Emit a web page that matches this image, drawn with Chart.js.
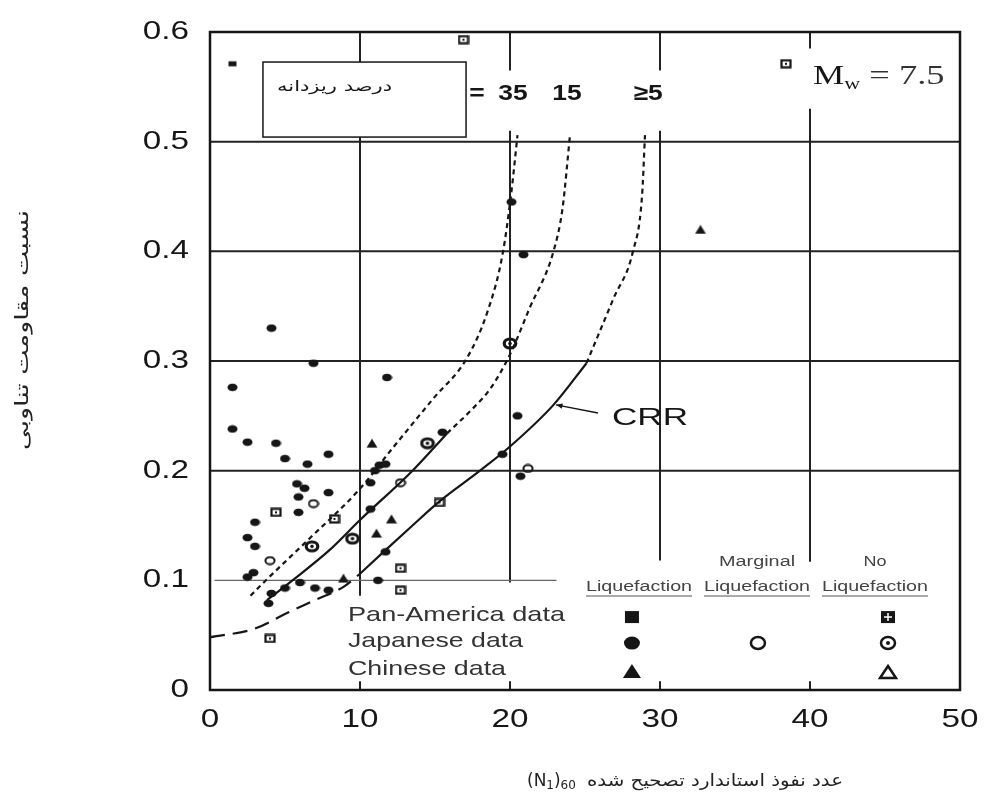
<!DOCTYPE html>
<html lang="fa">
<head>
    <meta charset="UTF-8">
    <title>CRR - (N1)60</title>
    <script src="https://cdn.jsdelivr.net/npm/chart.js@4"></script>
    <style>
        html, body { margin: 0; padding: 0; background: #fff; }
        canvas { display: block; }
    </style>
</head>
<body>
<canvas id="crrChart" width="988" height="796"></canvas>
<script>
    // Axes
    const xMin = 0, xMax = 50, xStep = 10;
    const yMin = 0, yMax = 0.6, yStep = 0.1;

    // Curves [(N1)60, CRR]
    const crr5Dash = [[0, 0.048], [3, 0.056], [5.1, 0.070], [7, 0.082], [8.9, 0.094], [10, 0.106]];
    const crr5Solid = [[10, 0.106], [11.5, 0.125], [13.5, 0.150], [15.3, 0.172], [18, 0.200], [20, 0.222], [22.9, 0.260], [25.1, 0.298]];
    const crr5Top = [[25.1, 0.298], [26.9, 0.357], [28.2, 0.400], [28.8, 0.450], [29.0, 0.506]];
    const fines15Solid = [[3.8, 0.082], [5.5, 0.100], [8, 0.128], [10, 0.155], [13.5, 0.200], [15.8, 0.234]];
    const fines15Top = [[15.8, 0.234], [17.4, 0.255], [18.7, 0.275], [20, 0.306], [21.3, 0.348], [22.9, 0.400], [23.5, 0.439], [24.0, 0.506]];
    const fines35 = [[2.7, 0.086], [3.8, 0.101], [6.7, 0.139], [9.9, 0.182], [12.2, 0.221], [14.9, 0.266], [17.1, 0.302], [18.5, 0.345], [19.5, 0.397], [20.1, 0.455], [20.5, 0.506]];

    // Case history points
    const panLiq = [[1.5, 0.571]];
    const panNoLiq = [[16.9, 0.593], [38.4, 0.571], [4.4, 0.162], [8.3, 0.156], [15.3, 0.171], [12.7, 0.111], [12.7, 0.091], [4.0, 0.047]];
    const japLiq = [
        [4.1, 0.330], [6.9, 0.298], [1.5, 0.276], [1.5, 0.238], [2.5, 0.226], [4.4, 0.225], [5.0, 0.211],
        [6.5, 0.206], [7.9, 0.215], [11.8, 0.285], [15.5, 0.235], [20.5, 0.250], [20.1, 0.445], [20.9, 0.397],
        [20.7, 0.195], [11.3, 0.205], [11.7, 0.206], [11.0, 0.200], [10.7, 0.189], [5.8, 0.188], [6.3, 0.184],
        [7.9, 0.180], [5.9, 0.176], [5.9, 0.162], [10.7, 0.165], [3.0, 0.153], [2.5, 0.139], [3.0, 0.131],
        [11.7, 0.126], [2.9, 0.107], [2.5, 0.103], [6.0, 0.098], [5.0, 0.093], [7.0, 0.093], [7.9, 0.091],
        [11.2, 0.100], [4.1, 0.088], [3.9, 0.079], [19.5, 0.215]
    ];
    const marginal = [[12.7, 0.189], [6.9, 0.170], [4.0, 0.118], [21.2, 0.202]];
    const japNoLiq = [[6.8, 0.131], [9.5, 0.138], [14.5, 0.225], [20.0, 0.316]];
    const chLiq = [[10.8, 0.225], [32.7, 0.420], [12.1, 0.156], [11.1, 0.143], [8.9, 0.102]];

    const ink = '#161616';
    const latin = "'Liberation Sans', Arial, sans-serif";
    const farsi = "'DejaVu Sans', sans-serif";
    const serif = "'Liberation Serif', 'DejaVu Serif', serif";

    // petits symboles
    function icon(w, h, draw) {
        const c = document.createElement('canvas');
        c.width = w; c.height = h;
        const g = c.getContext('2d');
        g.fillStyle = ink; g.strokeStyle = ink;
        draw(g, w, h);
        return c;
    }
    const dotIcon = icon(11, 9, (g, w, h) => { g.beginPath(); g.ellipse(w / 2, h / 2, 5, 3.8, 0, 0, Math.PI * 2); g.fill(); });
    const sqIcon = icon(10, 8, g => { g.fillRect(1, 1.5, 8, 5); });
    const sqNoIcon = icon(12, 10, g => { g.lineWidth = 2.2; g.strokeRect(1.5, 1.5, 9, 7); g.fillRect(5, 4, 2, 2); });
    const ringIcon = icon(12, 10, (g, w, h) => { g.lineWidth = 2; g.beginPath(); g.ellipse(w / 2, h / 2, 4.6, 3.6, 0, 0, Math.PI * 2); g.stroke(); });
    const ringDotIcon = icon(16, 13, (g, w, h) => {
        g.lineWidth = 3.2; g.beginPath(); g.ellipse(w / 2, h / 2, 5.8, 4.5, 0, 0, Math.PI * 2); g.stroke();
        g.beginPath(); g.arc(w / 2, h / 2, 1.8, 0, Math.PI * 2); g.fill();
    });
    const triIcon = icon(12, 10, g => { g.beginPath(); g.moveTo(6, 0.5); g.lineTo(11.5, 9.5); g.lineTo(0.5, 9.5); g.closePath(); g.fill(); });

    const toXY = arr => arr.map(p => ({ x: p[0], y: p[1] }));

    function curve(data, dash) {
        return {
            data: toXY(data), showLine: true, borderColor: ink, borderWidth: 2.2,
            borderDash: dash, pointRadius: 0, cubicInterpolationMode: 'monotone', fill: false
        };
    }
    function points(data, style) {
        return { data: toXY(data), showLine: false, pointStyle: style, pointRadius: 4, borderWidth: 0 };
    }

    // text helper: width (fit) or stretch (horizontal scale)
    function text(ctx, str, x, y, font, opts = {}) {
        ctx.save();
        ctx.font = font;
        ctx.fillStyle = opts.color || ink;
        ctx.textBaseline = opts.baseline || 'middle';
        ctx.direction = opts.dir || 'ltr';
        ctx.textAlign = 'left';
        const w = ctx.measureText(str).width;
        const sx = opts.width ? opts.width / w : (opts.stretch || 1);
        let left = x;
        if (opts.align === 'center') left = x - w * sx / 2;
        if (opts.align === 'right') left = x - w * sx;
        ctx.translate(left, y);
        ctx.scale(sx, 1);
        ctx.textAlign = opts.dir === 'rtl' ? 'right' : 'left';
        ctx.fillText(str, opts.dir === 'rtl' ? w : 0, 0);
        ctx.restore();
        return w * sx;
    }

    const paperPlugin = {
        id: 'paper',
        beforeDatasetsDraw(chart) {
            const { ctx, scales: { x, y } } = chart;
            const seg = (n1, v1, n2, v2) => {
                ctx.beginPath();
                ctx.moveTo(x.getPixelForValue(n1), y.getPixelForValue(v1));
                ctx.lineTo(x.getPixelForValue(n2), y.getPixelForValue(v2));
                ctx.stroke();
            };
            ctx.save();
            ctx.strokeStyle = '#222';
            ctx.lineWidth = 2;
            [0.2, 0.3, 0.4, 0.5].forEach(v => seg(xMin, v, xMax, v));
            // vertical lines, broken where the labels are
            seg(10, 0.6, 10, 0.086);
            seg(20, 0.6, 20, 0.565); seg(20, 0.51, 20, 0.098);
            seg(30, 0.6, 30, 0.565); seg(30, 0.51, 30, 0.118);
            seg(40, 0.6, 40, 0.585); seg(40, 0.53, 40, 0.117);
            [10, 20, 30, 40].forEach(n => seg(n, 0, n, 0.008));
            ctx.lineWidth = 1.3;
            ctx.strokeStyle = '#666';
            seg(0.3, 0.1, 23.1, 0.1);
            ctx.restore();
        },
        afterDatasetsDraw(chart) {
            const { ctx, chartArea: a, scales: { x, y } } = chart;
            const px = n => x.getPixelForValue(n);
            const py = v => y.getPixelForValue(v);
            ctx.save();
            ctx.strokeStyle = ink;
            ctx.lineWidth = 2.5;
            ctx.strokeRect(a.left, a.top, a.width, a.height);

            // box "fines content"
            const bx = px(3.53), by = py(0.5726), bw = px(17.07) - bx, bh = py(0.5042) - by;
            ctx.fillStyle = '#fff';
            ctx.fillRect(bx, by, bw, bh);
            ctx.lineWidth = 1.5;
            ctx.strokeRect(bx, by, bw, bh);
            text(ctx, 'درصد ریزدانه', px(4.47), py(0.55), '15px ' + farsi, { dir: 'rtl', width: 115 });

            // fines labels
            const bold = 'bold 22px ' + latin;
            const fo = { baseline: 'alphabetic', align: 'center', stretch: 1.2 };
            text(ctx, '=', px(17.8), py(0.538), bold, fo);
            text(ctx, '35', px(20.2), py(0.538), bold, fo);
            text(ctx, '15', px(23.8), py(0.538), bold, fo);
            text(ctx, '\u22655', px(29.2), py(0.538), bold, fo);

            // Mw = 7.5
            let cx = px(40.2);
            const base = py(0.553);
            cx += text(ctx, 'M', cx, base, '27px ' + serif, { baseline: 'alphabetic', stretch: 1.3 });
            cx += text(ctx, 'w', cx, base + 5, '17px ' + serif, { baseline: 'alphabetic', stretch: 1.3 });
            text(ctx, ' = 7.5', cx, base, '27px ' + serif, { baseline: 'alphabetic', stretch: 1.35, color: '#333' });

            // CRR label + arrow
            text(ctx, 'CRR', px(26.8), py(0.248), '24px ' + latin, { width: 76 });
            ctx.lineWidth = 1.5;
            const tx = px(23.07), ty = py(0.26), sx = px(25.87), sy = py(0.2526);
            ctx.beginPath(); ctx.moveTo(sx, sy); ctx.lineTo(tx, ty); ctx.stroke();
            const ang = Math.atan2(ty - sy, tx - sx);
            ctx.fillStyle = ink;
            ctx.beginPath();
            ctx.moveTo(tx, ty);
            ctx.lineTo(tx - 7 * Math.cos(ang - 0.4), ty - 7 * Math.sin(ang - 0.4));
            ctx.lineTo(tx - 7 * Math.cos(ang + 0.4), ty - 7 * Math.sin(ang + 0.4));
            ctx.closePath(); ctx.fill();

            // legend
            const legFont = '21px ' + latin;
            text(ctx, 'Pan-America data', px(9.2), py(0.0684), legFont, { color: '#333', width: 217 });
            text(ctx, 'Japanese data', px(9.2), py(0.0447), legFont, { color: '#333', width: 175 });
            text(ctx, 'Chinese data', px(9.2), py(0.0191), legFont, { color: '#333', width: 158 });

            const hFont = '14px ' + latin;
            const hOpt = { color: '#444', align: 'center', width: 106 };
            [px(28.6), px(36.47), px(44.33)].forEach(hx => {
                text(ctx, 'Liquefaction', hx, py(0.0939), hFont, hOpt);
                ctx.strokeStyle = '#555'; ctx.lineWidth = 1.2;
                ctx.beginPath(); ctx.moveTo(hx - 53, py(0.0939) + 9); ctx.lineTo(hx + 53, py(0.0939) + 9); ctx.stroke();
            });
            text(ctx, 'Marginal', px(36.47), py(0.1167), hFont, { color: '#444', align: 'center', width: 76 });
            text(ctx, 'No', px(44.33), py(0.1167), hFont, { color: '#444', align: 'center', width: 23 });

            // legend symbols
            const c1 = px(28.13), c2 = px(36.53), c3 = px(45.2);
            const r1 = py(0.0665), r2 = py(0.0428), r3 = py(0.0164);
            ctx.fillStyle = ink; ctx.strokeStyle = ink;
            ctx.fillRect(c1 - 7, r1 - 6, 14, 12);
            ctx.beginPath(); ctx.ellipse(c1, r2, 8, 6.5, 0, 0, Math.PI * 2); ctx.fill();
            ctx.beginPath(); ctx.moveTo(c1, r3 - 8); ctx.lineTo(c1 + 9, r3 + 6); ctx.lineTo(c1 - 9, r3 + 6); ctx.closePath(); ctx.fill();
            ctx.lineWidth = 2.5;
            ctx.beginPath(); ctx.ellipse(c2, r2, 7, 6, 0, 0, Math.PI * 2); ctx.stroke();
            ctx.fillRect(c3 - 7, r1 - 6, 14, 12);
            ctx.strokeStyle = '#fff'; ctx.lineWidth = 1.5;
            ctx.beginPath(); ctx.moveTo(c3 - 4, r1); ctx.lineTo(c3 + 4, r1); ctx.moveTo(c3, r1 - 4); ctx.lineTo(c3, r1 + 4); ctx.stroke();
            ctx.strokeStyle = ink; ctx.lineWidth = 2.5;
            ctx.beginPath(); ctx.ellipse(c3, r2, 7, 6, 0, 0, Math.PI * 2); ctx.stroke();
            ctx.beginPath(); ctx.arc(c3, r2, 2, 0, Math.PI * 2); ctx.fill();
            ctx.beginPath(); ctx.moveTo(c3, r3 - 6); ctx.lineTo(c3 + 8, r3 + 6); ctx.lineTo(c3 - 8, r3 + 6); ctx.closePath(); ctx.stroke();
            ctx.restore();
        },
        afterDraw(chart) {
            const { ctx, scales: { x, y } } = chart;
            // tick labels (wide, like the scanned figure)
            const tf = '25px ' + latin;
            y.ticks.forEach(t => {
                const lab = Math.abs(t.value) < 1e-9 ? '0' : t.value.toFixed(1);
                text(ctx, lab, 189, y.getPixelForValue(t.value), tf, { align: 'right', stretch: 1.33 });
            });
            x.ticks.forEach(t => {
                text(ctx, String(t.value), x.getPixelForValue(t.value), 720, tf, { align: 'center', stretch: 1.33 });
            });
            // y title
            ctx.save();
            ctx.translate(23, 330);
            ctx.rotate(-Math.PI / 2);
            text(ctx, 'نسبت مقاومت تناوبی', 0, 0, '18px ' + farsi, { dir: 'rtl', align: 'center', color: '#222', width: 240 });
            ctx.restore();
            // x title
            const yT = 782;
            let cx = 527;
            cx += text(ctx, '(N', cx, yT, '17px ' + farsi, { color: '#222' });
            cx += text(ctx, '1', cx, yT + 4, '12px ' + farsi, { color: '#222' });
            cx += text(ctx, ')', cx, yT, '17px ' + farsi, { color: '#222' });
            text(ctx, '60', cx, yT + 4, '12px ' + farsi, { color: '#222' });
            text(ctx, 'عدد نفوذ استاندارد تصحیح شده', 843, yT, '17px ' + farsi, { dir: 'rtl', align: 'right', color: '#222', width: 256 });
        }
    };

    new Chart(document.getElementById('crrChart').getContext('2d'), {
        type: 'scatter',
        data: {
            datasets: [
                curve(crr5Dash, [15, 8]),
                curve(crr5Solid, []),
                curve(crr5Top, [5, 4]),
                curve(fines15Solid, []),
                curve(fines15Top, [5, 4]),
                curve(fines35, [5, 4]),
                points(japLiq, dotIcon),
                points(panLiq, sqIcon),
                points(panNoLiq, sqNoIcon),
                points(marginal, ringIcon),
                points(japNoLiq, ringDotIcon),
                points(chLiq, triIcon)
            ]
        },
        options: {
            responsive: false,
            animation: false,
            layout: { padding: { left: 0, right: 28, top: 32, bottom: 0 } },
            plugins: { legend: { display: false }, tooltip: { enabled: false } },
            scales: {
                x: {
                    type: 'linear', min: xMin, max: xMax,
                    ticks: { stepSize: xStep, display: false },
                    grid: { display: false, drawTicks: false },
                    border: { display: false },
                    afterFit: s => { s.height = 106; }
                },
                y: {
                    type: 'linear', min: yMin, max: yMax,
                    ticks: { stepSize: yStep, display: false },
                    grid: { display: false, drawTicks: false },
                    border: { display: false },
                    afterFit: s => { s.width = 210; }
                }
            }
        },
        plugins: [paperPlugin]
    });
</script>
</body>
</html>
